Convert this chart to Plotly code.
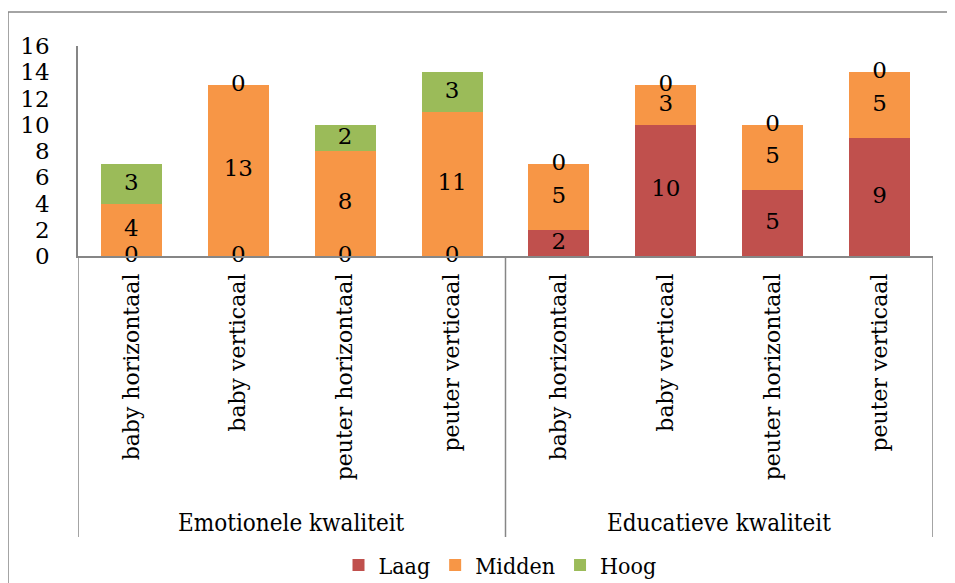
import plotly.graph_objects as go

groups = ["Emotionele kwaliteit", "Educatieve kwaliteit"]
categories = ["baby horizontaal", "baby verticaal", "peuter horizontaal", "peuter verticaal"]
series_names = ["Laag", "Midden", "Hoog"]
laag = [0, 0, 0, 0, 2, 10, 5, 9]
midden = [4, 13, 8, 11, 5, 3, 5, 5]
hoog = [3, 0, 2, 3, 0, 0, 0, 0]
colors = ["#C0504D", "#F79646", "#9BBB59"]

FONT = "DejaVu Serif"
FONT_COND = "DejaVu Serif Condensed, DejaVu Serif"
tick_labels = categories * len(groups)
xs = list(range(len(tick_labels)))
series = [laag, midden, hoog]

fig = go.Figure()
for name, vals, col in zip(series_names, series, colors):
    fig.add_trace(go.Bar(x=xs, y=vals, name=name, marker=dict(color=col, line=dict(width=0)),
                         hoverinfo="skip"))

# data labels (including zeros) at segment centres
base = [0] * len(xs)
for vals in series:
    mids = [b + v / 2 for b, v in zip(base, vals)]
    fig.add_trace(go.Scatter(x=xs, y=mids, mode="text", text=[str(v) for v in vals],
                             textposition="middle center", showlegend=False, cliponaxis=False,
                             textfont=dict(family=FONT, size=23, color="black"), hoverinfo="skip"))
    base = [b + v for b, v in zip(base, vals)]

# helpers: positions given in reference-window pixels
def px_x(p):
    return (p - 78) / 855.0

def px_y(p):
    return (256 - p) / 210.0

shapes = []
# outer chart border (top + left visible)
shapes.append(dict(type="rect", xref="paper", yref="paper", x0=px_x(8), x1=px_x(1000),
                   y0=px_y(700), y1=px_y(12), line=dict(color="#868686", width=1.5)))
# group bracket lines
n = len(categories)
for k in range(len(groups) + 1):
    shapes.append(dict(type="line", xref="x", yref="paper", x0=k * n - 0.5, x1=k * n - 0.5,
                       y0=0, y1=px_y(537), line=dict(color="#868686", width=1.5)))

annotations = []
for g, name in enumerate(groups):
    annotations.append(dict(x=g * n + (n - 1) / 2, xref="x", y=px_y(523), yref="paper",
                            text=name, showarrow=False, yanchor="middle",
                            font=dict(family=FONT_COND, size=24, color="black")))

fig.update_layout(
    width=947, height=575,
    barmode="stack", bargap=0.43,
    plot_bgcolor="white", paper_bgcolor="white",
    margin=dict(l=70, r=22, t=38, b=327, autoexpand=False),
    shapes=shapes, annotations=annotations,
    showlegend=True,
    legend=dict(orientation="h", x=px_x(500), xanchor="center", y=px_y(565), yanchor="middle",
                font=dict(family=FONT_COND, size=23, color="black"), itemwidth=30,
                tracegroupgap=0, traceorder="normal"),
    xaxis=dict(range=[-0.5, len(xs) - 0.5], tickmode="array", tickvals=xs, ticktext=tick_labels,
               tickangle=-90, showline=True, linecolor="#868686", linewidth=1.5, ticks="",
               showgrid=False, zeroline=False, automargin=False, ticklabelstandoff=7,
               tickfont=dict(family=FONT, size=22, color="black")),
    yaxis=dict(range=[0, 16], dtick=2, showline=True, linecolor="#868686", linewidth=1.5,
               ticks="", showgrid=False, zeroline=False, ticklabelstandoff=22, automargin=False,
               tickfont=dict(family=FONT, size=23, color="black")),
)

fig.write_html("out.html")
